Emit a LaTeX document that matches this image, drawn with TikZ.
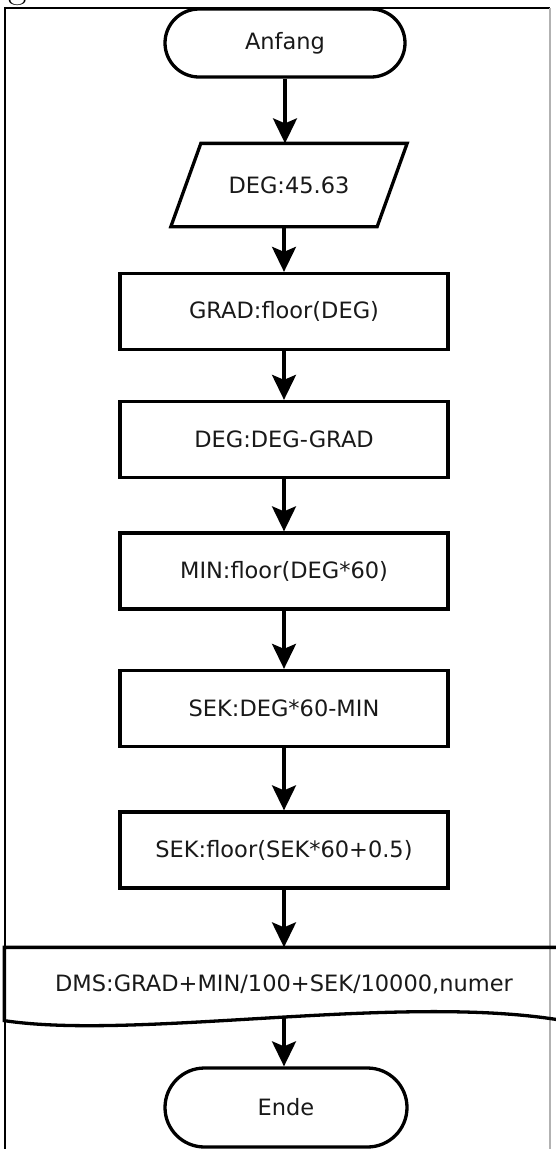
\documentclass[tikz,border=0pt]{standalone}
\usepackage{fontspec}
\newfontfamily\flowfont{DejaVu Sans}
\usetikzlibrary{arrows.meta,calc}

\begin{document}
\begin{tikzpicture}[x=1pt,y=-1pt]
          \useasboundingbox (0,0) rectangle (555,1149);
          \node[anchor=base west, inner sep=0pt, font=\fontsize{40}{40}\selectfont] (0) at (8,-3) {g};
          \draw[line width=2.5pt] (5,1149) -- (5,8) -- (550,8);
          \draw[black!30, line width=1.5pt] (550,8) -- (550,1149);
          \tikzstyle{arr} = [line width=3.3pt, -{Stealth[length=25pt,width=24pt,inset=5pt]}]
          \tikzstyle{every node} = [draw, line width=3.3pt, inner sep=0pt, text=black!90, font=\flowfont\fontsize{22.5}{27}\selectfont]
          \node[rounded corners=34pt, minimum width=240pt, minimum height=68pt] (1) at (285,43) {Anfang};
          \node[draw=none, minimum width=203pt, minimum height=80pt] (2) at (289,185) {DEG:45.63};
          \draw[line width=3.3pt] ([xshift=-15pt]2.south west) -- ([xshift=-15pt]2.south east)
            -- ([xshift=15pt]2.north east) -- ([xshift=15pt]2.north west) -- cycle;
          \tikzstyle{every node} = [draw, line width=3.3pt, inner sep=0pt, minimum width=328pt, minimum height=76pt, text=black!90, font=\flowfont\fontsize{22.5}{27}\selectfont]
          \node (3) at (284,311.5) {GRAD:floor(DEG)};
          \node (4) at (284,439.5) {DEG:DEG-GRAD};
          \node (5) at (284,571) {MIN:floor(DEG*60)};
          \node (6) at (284,708.5) {SEK:DEG*60-MIN};
          \node (7) at (284,850) {SEK:floor(SEK*60+0.5)};
          \node[draw=none, minimum width=556pt, minimum height=70pt] (8) at (284,984) {DMS:GRAD+MIN/100+SEK/10000,numer};
          \draw[line width=3.3pt] (8.south east) -- (8.north east) -- (8.north west) -- (8.south west)
            .. controls ($(8.south west)+(134,20)$) and ($(8.south east)+(-162,-28)$) .. (8.south east)
            coordinate[pos=0.517] (w);
          \node[rounded corners=39.5pt, minimum width=242pt, minimum height=79pt] (10) at (286,1107.5) {Ende};
          \tikzstyle{every node} = []
          \path[arr]
          (1.south) edge (1.south |- 2.north);
          \path[arr]
          (2.south -| 3) edge (3.north);
          \path[arr]
          (3) edge (4);
          \path[arr]
          (4) edge (5);
          \path[arr]
          (5) edge (6);
          \path[arr]
          (6) edge (7);
          \path[arr]
          (7) edge (8);
          \path[arr]
          (w) edge (w |- 10.north);
          \end{tikzpicture}
\end{document}
